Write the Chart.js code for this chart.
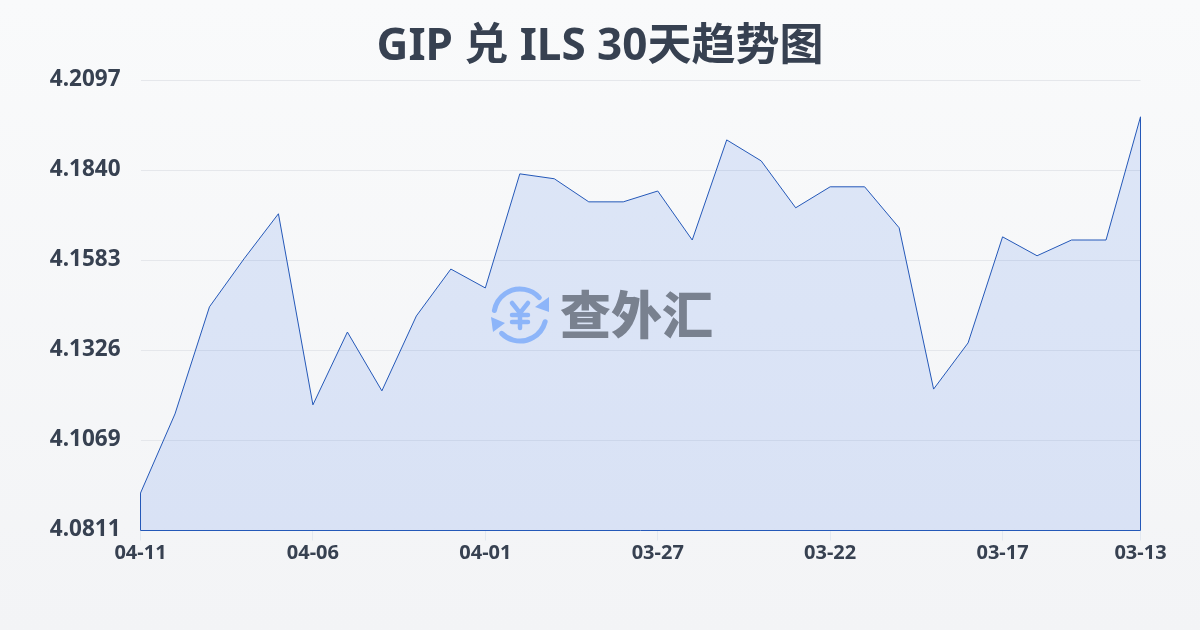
<!DOCTYPE html>
<html>
<head>
<meta charset="utf-8">
<style>
  html, body { margin: 0; padding: 0; }
  body { width: 1200px; height: 630px; background: linear-gradient(180deg, #f9fafb, #f3f4f6); overflow: hidden; }
  #wrap { width: 1200px; height: 630px; position: relative; }
</style>
<script src="https://cdn.jsdelivr.net/npm/chart.js@4"></script>
</head>
<body>
<div id="wrap"><canvas id="myChart" width="1200" height="630"></canvas></div>
<script>
const titleText = 'GIP 兑 ILS 30天趋势图';
const dates = ['04-11','04-10','04-09','04-08','04-07','04-06','04-05','04-04','04-03','04-02',
  '04-01','03-31','03-30','03-29','03-28','03-27','03-26','03-25','03-24','03-23',
  '03-22','03-21','03-20','03-19','03-18','03-17','03-16','03-15','03-14','03-13'];
const rates = [4.0918,4.1144,4.1450,4.1587,4.1716,4.1170,4.1378,4.1210,4.1424,4.1558,
  4.1504,4.1830,4.1816,4.1750,4.1750,4.1781,4.1641,4.1927,4.1867,4.1733,
  4.1793,4.1793,4.1676,4.1215,4.1347,4.1650,4.1596,4.1641,4.1641,4.1993];
const yTicks = [4.0811,4.1069,4.1326,4.1583,4.1840,4.2097];
const xTickDates = ['04-11','04-06','04-01','03-27','03-22','03-17','03-13'];

const font = "'Noto Sans', 'Noto Sans CJK SC', sans-serif";
const inkColor = '#374151';
const lineColor = '#2458b8';

// closes the area outline down the two sides and along the bottom
const outline = {
  id: 'outline',
  afterDatasetsDraw(chart) {
    const { ctx, scales: { x, y } } = chart;
    const base = y.getPixelForValue(yTicks[0]);
    const last = rates.length - 1;
    ctx.save();
    ctx.strokeStyle = lineColor;
    ctx.lineWidth = 1;
    ctx.beginPath();
    ctx.moveTo(x.getPixelForValue(0), y.getPixelForValue(rates[0]));
    ctx.lineTo(x.getPixelForValue(0), base);
    ctx.lineTo(x.getPixelForValue(last), base);
    ctx.lineTo(x.getPixelForValue(last), y.getPixelForValue(rates[last]));
    ctx.stroke();
    ctx.restore();
  }
};

// watermark logo in the middle of the plot
const watermark = {
  id: 'watermark',
  afterDraw(chart) {
    const { ctx } = chart;
    const cx = 520, cy = 315, r = 26;
    const deg = Math.PI / 180;
    ctx.save();
    ctx.strokeStyle = '#8db5f9';
    ctx.fillStyle = '#8db5f9';
    ctx.lineWidth = 5;
    ctx.lineCap = 'round';
    ctx.beginPath();
    ctx.arc(cx, cy, r, 190 * deg, 318 * deg);
    ctx.stroke();
    ctx.beginPath();
    ctx.arc(cx, cy, r, 15 * deg, 135 * deg);
    ctx.stroke();
    ctx.beginPath();
    ctx.moveTo(549, 297); ctx.lineTo(549, 312); ctx.lineTo(535, 307);
    ctx.closePath(); ctx.fill();
    ctx.beginPath();
    ctx.moveTo(491, 317); ctx.lineTo(505, 323); ctx.lineTo(493, 332);
    ctx.closePath(); ctx.fill();
    // yen sign
    ctx.lineWidth = 4.5;
    ctx.beginPath();
    ctx.moveTo(512, 303); ctx.lineTo(520, 313); ctx.lineTo(528, 303);
    ctx.moveTo(520, 313); ctx.lineTo(520, 328);
    ctx.moveTo(512, 315); ctx.lineTo(528, 315);
    ctx.moveTo(512, 322); ctx.lineTo(528, 322);
    ctx.stroke();
    ctx.fillStyle = '#79818f';
    ctx.font = "900 51px 'Noto Sans CJK SC'";
    ctx.textAlign = 'left';
    ctx.textBaseline = 'middle';
    ctx.fillText('查外汇', 560, 315);
    ctx.restore();
  }
};

new Chart(document.getElementById('myChart'), {
  type: 'line',
  data: {
    labels: dates,
    datasets: [{
      data: rates,
      borderColor: lineColor,
      borderWidth: 1,
      backgroundColor: 'rgba(37,99,235,0.13)',
      fill: 'start',
      pointRadius: 0,
      tension: 0
    }]
  },
  options: {
    responsive: false,
    animation: false,
    plugins: {
      legend: { display: false },
      tooltip: { enabled: false },
      title: {
        display: true,
        text: titleText,
        color: inkColor,
        font: { family: font, size: 44, weight: 'bold' },
        padding: { top: 21, bottom: 6.6 }
      }
    },
    scales: {
      x: {
        type: 'category',
        afterBuildTicks(axis) {
          axis.ticks = axis.ticks.filter(t => xTickDates.includes(dates[t.value]));
        },
        afterFit(axis) { axis.height = 99.5; },
        grid: { drawOnChartArea: false, drawTicks: true, tickLength: 10, color: '#e2e8f0' },
        border: { display: false },
        ticks: {
          autoSkip: false,
          maxRotation: 0,
          color: inkColor,
          padding: 1,
          font: { family: font, size: 20, weight: 'bold' }
        }
      },
      y: {
        min: yTicks[0],
        max: yTicks[yTicks.length - 1],
        afterBuildTicks(axis) { axis.ticks = yTicks.map(v => ({ value: v })); },
        afterFit(axis) { axis.width = 140.5; },
        grid: { color: '#e5e7eb', lineWidth: 1, drawTicks: false },
        border: { display: false },
        ticks: {
          color: inkColor,
          padding: 20,
          labelOffset: -1,
          callback: v => v.toFixed(4),
          font: { family: font, size: 22.5, weight: 'bold' }
        }
      },
      // empty right gutter so the title stays centred on the page
      gutter: {
        position: 'right',
        afterFit(axis) { axis.width = 59.5; },
        grid: { display: false },
        border: { display: false },
        ticks: { display: false }
      }
    }
  },
  plugins: [outline, watermark]
});
</script>
</body>
</html>
